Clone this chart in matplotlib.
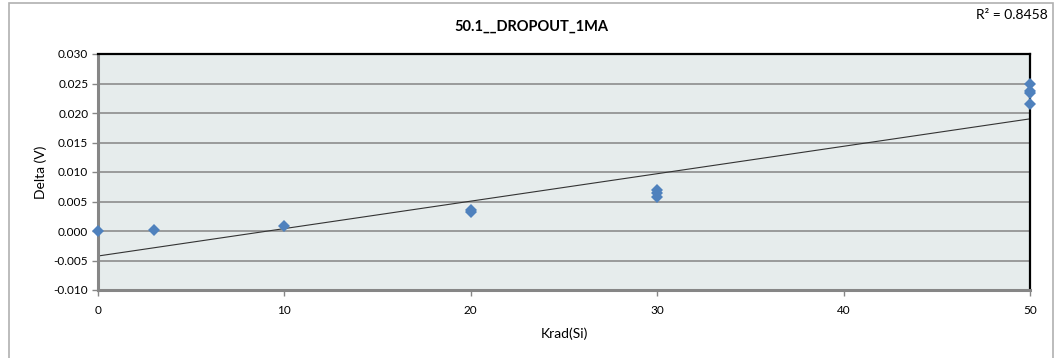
import numpy as np
import matplotlib
matplotlib.use("Agg")
from matplotlib import pyplot as plt
from matplotlib.patches import Rectangle

plt.rcParams['font.family'] = ['Lato', 'DejaVu Sans']

# --- data: delta vs total dose ---
dose_krad = [0, 3, 10, 20, 20, 30, 30, 30, 50, 50, 50, 50]
delta_v = [0.0000, 0.0002, 0.0008, 0.0032, 0.0036,
           0.0058, 0.0064, 0.0069, 0.0250, 0.0237, 0.0234, 0.0215]

# linear trend line (slope in V/krad, intercept in V) and its R²
trend_slope = 0.000465
trend_intercept = -0.00424
r_squared = 0.8458

chart_title = "50.1__DROPOUT_1MA"
x_ticks = [0, 10, 20, 30, 40, 50]
y_ticks = [-0.010, -0.005, 0.000, 0.005, 0.010, 0.015, 0.020, 0.025, 0.030]

fig = plt.figure(figsize=(10.59, 3.58), dpi=100)
fig.patch.set_facecolor('white')

# outer chart frame
fig.patches.append(Rectangle((9 / 1059, -0.05), 1044 / 1059, 1.05 - 3 / 358,
                             transform=fig.transFigure, fill=False,
                             edgecolor='#b0b0b0', linewidth=1.2))

ax = fig.add_axes([98 / 1059, 1 - 290 / 358, 932 / 1059, 236 / 358])
ax.set_facecolor('#e6ecec')

ax.set_xlim(0, 50)
ax.set_ylim(-0.010, 0.030)
ax.set_xticks(x_ticks)
ax.set_yticks(y_ticks)
ax.set_yticklabels([f"{v:.3f}" for v in y_ticks])

ax.grid(axis='y', color='#8c8c8c', linewidth=1.2)
ax.set_axisbelow(True)

# trend line
xs = np.array([0, 50])
ax.plot(xs, trend_slope * xs + trend_intercept, color='#333333', linewidth=0.8, zorder=2)

# data points
ax.plot(dose_krad, delta_v, linestyle='none', marker='D', markersize=6.3,
        markeredgewidth=0, color='#4f81bd', zorder=3, clip_on=False)

for side in ('left', 'bottom'):
    ax.spines[side].set_color('#868686')
    ax.spines[side].set_linewidth(2.2)
for side in ('top', 'right'):
    ax.spines[side].set_color('black')
    ax.spines[side].set_linewidth(1.6)

ax.tick_params(axis='both', direction='out', length=4, width=1, color='#868686',
               labelsize=8.5, labelcolor='#000000')
ax.tick_params(axis='x', pad=7)
ax.tick_params(axis='y', pad=3)

ax.set_xlabel("Krad(Si)", fontsize=10, labelpad=8)
ax.set_ylabel("Delta (V)", fontsize=10, labelpad=5)

fig.text(531 / 1059, 1 - 27 / 358, chart_title, ha='center', va='center',
         fontsize=10.5, fontweight='bold')
fig.text(1048 / 1059, 1 - 15 / 358, f"R² = {r_squared:.4f}", ha='right', va='center',
         fontsize=10)

fig.savefig("out.png", dpi=100, facecolor='white')
